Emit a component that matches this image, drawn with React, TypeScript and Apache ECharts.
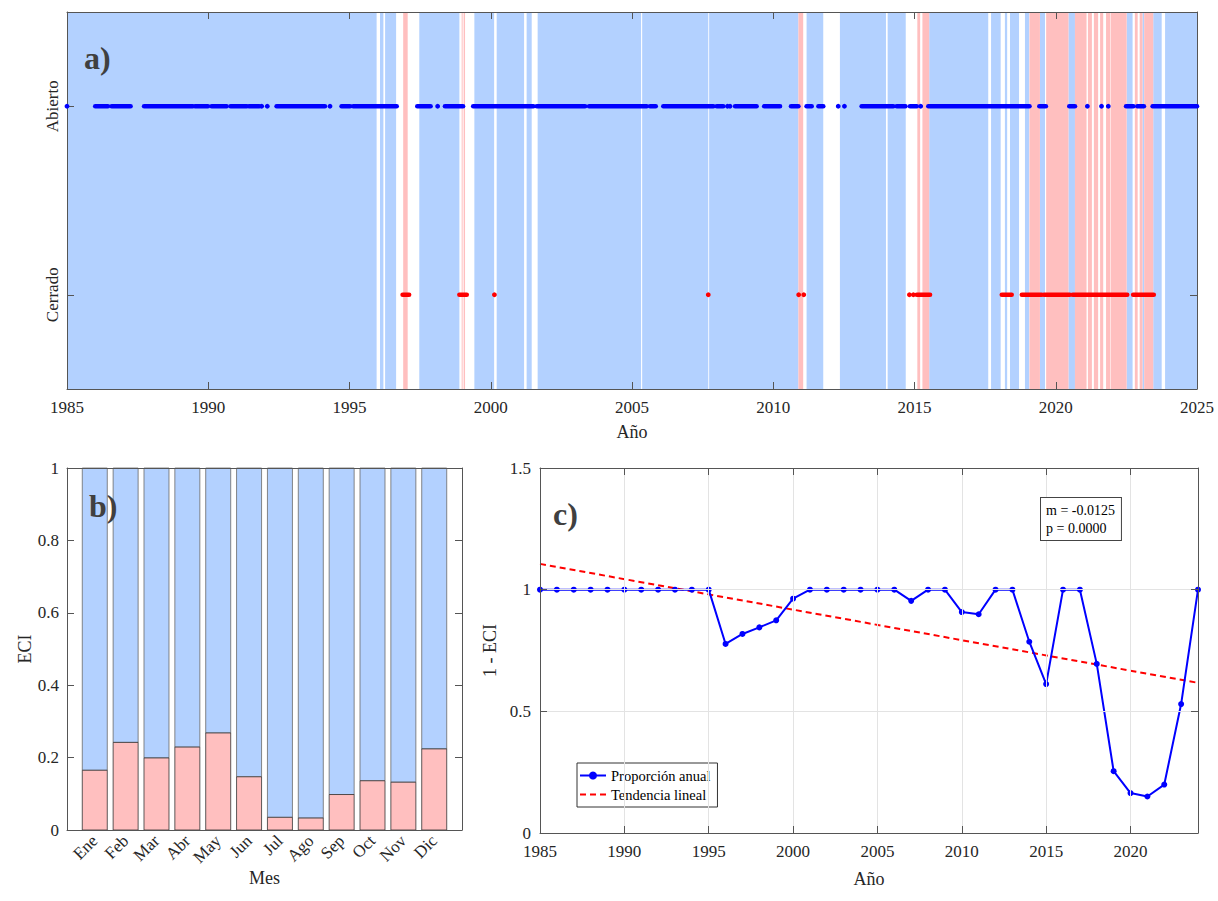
import React, { useEffect, useRef } from "react";
import * as echarts from "echarts";

const FONT = '"Liberation Serif","Times New Roman",serif';
const TXT = "#262626";
const AX = "#555555";
const BLUE_BG = "#b3d1ff";
const RED_BG = "#ffbfbf";

// ---------- Panel a: estado de la boca (Abierto = 1, Cerrado = 0) ----------
const stateLabels = ["Cerrado", "Abierto"];
const openSpans = [
  [1985.0, 1995.96], [1996.08, 1996.2], [1996.26, 1996.65], [1997.47, 1998.89],
  [1999.42, 2000.12], [2000.21, 2001.18], [2001.27, 2001.45], [2001.66, 2005.32],
  [2005.36, 2007.7], [2007.73, 2010.89], [2011.18, 2011.77], [2012.36, 2013.99],
  [2014.05, 2014.69], [2015.52, 2017.61], [2017.71, 2018.05], [2018.2, 2018.28],
  [2018.38, 2018.7], [2018.91, 2019.06], [2019.44, 2019.62], [2020.45, 2020.68],
  [2022.51, 2022.72], [2023.07, 2023.13], [2023.45, 2023.75], [2023.87, 2025.0],
];
const closedSpans = [
  [1996.9, 1997.06], [1998.97, 1999.0], [1999.04, 1999.09], [2010.89, 2011.06],
  [2015.1, 2015.2], [2015.28, 2015.52], [2019.07, 2019.44], [2019.66, 2020.45],
  [2020.68, 2021.09], [2021.14, 2021.28], [2021.35, 2021.5], [2021.57, 2021.68],
  [2021.78, 2021.92], [2021.94, 2022.51], [2022.8, 2022.9], [2022.97, 2023.07],
  [2023.13, 2023.45],
];
const openObs = [
  [1985.0, 1985.0], [1986.0, 1986.45], [1986.58, 1987.25], [1987.73, 1989.45],
  [1989.53, 1989.99], [1990.12, 1990.65], [1990.79, 1991.36], [1991.44, 1991.81],
  [1991.89, 1991.89], [1992.09, 1992.09], [1992.42, 1994.13], [1994.31, 1994.31],
  [1994.72, 1995.02], [1995.13, 1996.67], [1997.4, 1997.87], [1998.12, 1998.12],
  [1998.38, 1999.02], [1999.38, 2001.51], [2001.63, 2003.34], [2003.48, 2005.52],
  [2005.64, 2005.84], [2006.11, 2007.88], [2008.0, 2008.23], [2008.38, 2008.38],
  [2008.47, 2008.47], [2008.65, 2009.41], [2009.68, 2010.24], [2010.63, 2010.89],
  [2011.18, 2011.36], [2011.6, 2011.77], [2012.3, 2012.3], [2012.52, 2012.52],
  [2013.13, 2014.25], [2014.37, 2014.68], [2014.84, 2015.08], [2015.22, 2015.22],
  [2015.49, 2019.07], [2019.42, 2019.65], [2020.48, 2020.68], [2021.12, 2021.12],
  [2021.62, 2021.62], [2021.86, 2021.86], [2022.49, 2022.75], [2022.89, 2023.12],
  [2023.43, 2025.0],
];
const closedObs = [
  [1996.88, 1997.11], [1998.89, 1999.15], [2000.13, 2000.13], [2007.7, 2007.7],
  [2010.9, 2010.9], [2011.08, 2011.08], [2014.82, 2014.82], [2014.96, 2014.96],
  [2015.08, 2015.55], [2018.09, 2018.44], [2018.8, 2019.5], [2019.58, 2020.5],
  [2020.6, 2022.53], [2022.74, 2023.47],
];

// ---------- Panel b: ECI mensual ----------
const months = ["Ene", "Feb", "Mar", "Abr", "May", "Jun", "Jul", "Ago", "Sep", "Oct", "Nov", "Dic"];
const monthIdx = [1, 2, 3, 4, 5, 6, 7, 8, 9, 10, 11, 12];
const eciMonthly = [0.165, 0.242, 0.199, 0.229, 0.268, 0.147, 0.035, 0.033, 0.098, 0.136, 0.132, 0.224];

// ---------- Panel c: 1 - ECI anual ----------
const years = [
  1985, 1986, 1987, 1988, 1989, 1990, 1991, 1992, 1993, 1994, 1995, 1996, 1997, 1998,
  1999, 2000, 2001, 2002, 2003, 2004, 2005, 2006, 2007, 2008, 2009, 2010, 2011, 2012,
  2013, 2014, 2015, 2016, 2017, 2018, 2019, 2020, 2021, 2022, 2023, 2024,
];
const annualProp = [
  1, 1, 1, 1, 1, 1, 1, 1, 1, 1, 1, 0.777, 0.818, 0.845, 0.874, 0.963, 1, 1, 1, 1, 1, 1,
  0.954, 1, 1, 0.908, 0.899, 1, 1, 0.786, 0.612, 1, 1, 0.695, 0.254, 0.164, 0.15, 0.199,
  0.53, 1,
];
const trendYears = [1985, 2024];
const trendValues = [1.106, 0.617];
const trendStats = ["m = -0.0125", "p = 0.0000"];

const tickStyle = { show: true, inside: true, length: 7, lineStyle: { color: AX, width: 1 } };
const lineStyleAx = { show: true, onZero: false, lineStyle: { color: AX, width: 1 } };
const lblStyle = { color: TXT, fontFamily: FONT, fontSize: 17 };
const nameStyle = { color: TXT, fontFamily: FONT, fontSize: 18 };
const plain = (v: number) => String(v);

function spanSeries(spans: number[][], color: string) {
  return {
    type: "custom",
    xAxisIndex: 0,
    yAxisIndex: 0,
    silent: true,
    z: 1,
    clip: true,
    data: spans.map((s) => [s[0], s[1], 0.5]),
    encode: { x: [0, 1], y: 2 },
    renderItem: (_p: any, api: any) => {
      const a = api.coord([api.value(0), 1.5]);
      const b = api.coord([api.value(1), -0.5]);
      return {
        type: "rect",
        shape: { x: a[0], y: a[1], width: Math.max(b[0] - a[0], 1), height: b[1] - a[1] },
        style: { fill: color },
      };
    },
  };
}

function obsSeries(obs: number[][], level: number, color: string) {
  return {
    type: "custom",
    xAxisIndex: 0,
    yAxisIndex: 0,
    silent: true,
    z: 8,
    clip: false,
    data: obs.map((o) => [o[0], o[1], level]),
    encode: { x: [0, 1], y: 2 },
    renderItem: (_p: any, api: any) => {
      const a = api.coord([api.value(0), api.value(2)]);
      const b = api.coord([api.value(1), api.value(2)]);
      if (b[0] - a[0] < 0.5) {
        return { type: "circle", shape: { cx: a[0], cy: a[1], r: 2.4 }, style: { fill: color } };
      }
      return {
        type: "line",
        shape: { x1: a[0], y1: a[1], x2: b[0], y2: b[1] },
        style: { stroke: color, lineWidth: 4.6, lineCap: "round" },
      };
    },
  };
}

export default function App() {
  const ref = useRef<HTMLDivElement>(null);
  useEffect(() => {
    if (!ref.current) return;
    const chart = echarts.init(ref.current, undefined, { renderer: "svg" });
    const option: any = {
      animation: false,
      backgroundColor: "#ffffff",
      grid: [
        { left: 67, top: 12, width: 1130, height: 377 },
        { left: 67, top: 468, width: 395, height: 362 },
        { left: 540, top: 468, width: 658, height: 365 },
      ],
      xAxis: [
        {
          gridIndex: 0, type: "value", min: 1985, max: 2025, interval: 5, z: 5,
          axisLine: lineStyleAx, axisTick: tickStyle, splitLine: { show: false },
          axisLabel: { ...lblStyle, margin: 10, formatter: plain },
          name: "Año", nameLocation: "middle", nameGap: 34, nameTextStyle: nameStyle,
        },
        {
          gridIndex: 0, type: "value", min: 1985, max: 2025, interval: 5, position: "top", z: 5,
          axisLine: lineStyleAx, axisTick: tickStyle, splitLine: { show: false }, axisLabel: { show: false },
        },
        {
          gridIndex: 1, type: "value", min: 0.1, max: 12.9, z: 5,
          axisLine: lineStyleAx, axisTick: { show: false }, splitLine: { show: false },
          axisLabel: {
            ...lblStyle, fontSize: 17, rotate: 45, margin: 8,
            customValues: monthIdx,
            formatter: (v: number) => months[Math.round(v) - 1] ?? "",
          },
          name: "Mes", nameLocation: "middle", nameGap: 29, nameTextStyle: nameStyle,
        },
        {
          gridIndex: 1, type: "value", min: 0.1, max: 12.9, position: "top", z: 5,
          axisLine: lineStyleAx, axisTick: { show: false }, splitLine: { show: false }, axisLabel: { show: false },
        },
        {
          gridIndex: 2, type: "value", min: 1985, max: 2024, interval: 5, z: 5,
          axisLine: lineStyleAx, axisTick: tickStyle,
          splitLine: { show: true, lineStyle: { color: "#e3e3e3", width: 1 } },
          axisLabel: { ...lblStyle, margin: 10, formatter: (v: number) => (v % 5 === 0 ? String(v) : "") },
          name: "Año", nameLocation: "middle", nameGap: 37, nameTextStyle: nameStyle,
        },
        {
          gridIndex: 2, type: "value", min: 1985, max: 2024, interval: 5, position: "top", z: 5,
          axisLine: lineStyleAx, axisTick: tickStyle, splitLine: { show: false }, axisLabel: { show: false },
        },
      ],
      yAxis: [
        {
          gridIndex: 0, type: "value", min: -0.5, max: 1.5, z: 5,
          axisLine: lineStyleAx, axisTick: { ...tickStyle, customValues: [0, 1] }, splitLine: { show: false },
          axisLabel: {
            ...lblStyle, rotate: 90, margin: 6, customValues: [0, 1],
            formatter: (v: number) => stateLabels[Math.round(v)] ?? "",
          },
        },
        {
          gridIndex: 0, type: "value", min: -0.5, max: 1.5, position: "right", z: 5,
          axisLine: lineStyleAx, axisTick: { ...tickStyle, customValues: [0, 1] }, splitLine: { show: false },
          axisLabel: { show: false },
        },
        {
          gridIndex: 1, type: "value", min: 0, max: 1, interval: 0.2, z: 5,
          axisLine: lineStyleAx, axisTick: tickStyle, splitLine: { show: false },
          axisLabel: { ...lblStyle, margin: 8 },
          name: "ECI", nameLocation: "middle", nameGap: 24, nameTextStyle: nameStyle,
        },
        {
          gridIndex: 1, type: "value", min: 0, max: 1, interval: 0.2, position: "right", z: 5,
          axisLine: lineStyleAx, axisTick: tickStyle, splitLine: { show: false }, axisLabel: { show: false },
        },
        {
          gridIndex: 2, type: "value", min: 0, max: 1.5, interval: 0.5, z: 5,
          axisLine: lineStyleAx, axisTick: tickStyle,
          splitLine: { show: true, lineStyle: { color: "#e3e3e3", width: 1 } },
          axisLabel: { ...lblStyle, margin: 9 },
          name: "1 - ECI", nameLocation: "middle", nameGap: 26, nameTextStyle: nameStyle,
        },
        {
          gridIndex: 2, type: "value", min: 0, max: 1.5, interval: 0.5, position: "right", z: 5,
          axisLine: lineStyleAx, axisTick: tickStyle, splitLine: { show: false }, axisLabel: { show: false },
        },
      ],
      legend: {
        data: [
          { name: "Proporción anual" },
          { name: "Tendencia lineal", itemStyle: { opacity: 0 } },
        ],
        orient: "vertical",
        left: 577,
        top: 763,
        itemWidth: 26,
        itemHeight: 10,
        itemGap: 4,
        padding: [5, 7, 5, 2],
        backgroundColor: "#ffffff",
        borderColor: "#333333",
        borderWidth: 1,
        textStyle: { color: "#000", fontFamily: FONT, fontSize: 14.5 },
      },
      graphic: [
        {
          type: "text", left: 84, top: 42, z: 20,
          style: { text: "a)", fill: "#404040", fontFamily: FONT, fontSize: 32, fontWeight: "bold" },
        },
        {
          type: "text", left: 89, top: 490, z: 20,
          style: { text: "b)", fill: "#404040", fontFamily: FONT, fontSize: 32, fontWeight: "bold" },
        },
        {
          type: "text", left: 553, top: 498, z: 20,
          style: { text: "c)", fill: "#404040", fontFamily: FONT, fontSize: 32, fontWeight: "bold" },
        },
        {
          type: "text", left: 1040, top: 497, z: 20,
          style: {
            text: trendStats.join("\n"), fill: "#000", fontFamily: FONT, fontSize: 14, lineHeight: 18,
            backgroundColor: "#fff", borderColor: "#444", borderWidth: 1, padding: [3, 6, 3, 5],
          },
        },
      ],
      series: [
        spanSeries(openSpans, BLUE_BG),
        spanSeries(closedSpans, RED_BG),
        obsSeries(openObs, 1, "#0000ff"),
        obsSeries(closedObs, 0, "#ff0000"),
        {
          type: "custom", xAxisIndex: 2, yAxisIndex: 2, silent: true, z: 2,
          data: monthIdx.map((m, i) => [m, eciMonthly[i]]),
          encode: { x: 0, y: 1 },
          renderItem: (_p: any, api: any) => {
            const m = api.value(0);
            const v = api.value(1);
            const p0 = api.coord([m, 0]);
            const pv = api.coord([m, v]);
            const p1 = api.coord([m, 1]);
            const w = 25;
            return {
              type: "group",
              children: [
                {
                  type: "rect",
                  shape: { x: p1[0] - w / 2, y: p1[1], width: w, height: pv[1] - p1[1] },
                  style: { fill: BLUE_BG, stroke: "#6a6a6a", lineWidth: 0.8 },
                },
                {
                  type: "rect",
                  shape: { x: pv[0] - w / 2, y: pv[1], width: w, height: p0[1] - pv[1] },
                  style: { fill: RED_BG, stroke: "#333333", lineWidth: 0.8 },
                },
              ],
            };
          },
        },
        {
          name: "Proporción anual", type: "line", xAxisIndex: 4, yAxisIndex: 4,
          data: years.map((y, i) => [y, annualProp[i]]),
          symbol: "circle", symbolSize: 6, clip: false, z: 4,
          lineStyle: { color: "#0000ff", width: 2 }, itemStyle: { color: "#0000ff" },
        },
        {
          name: "Tendencia lineal", type: "line", xAxisIndex: 4, yAxisIndex: 4,
          data: trendYears.map((y, i) => [y, trendValues[i]]),
          symbol: "none", z: 3,
          lineStyle: { color: "#ff0000", width: 2, type: [6, 4] }, itemStyle: { color: "#ff0000" },
        },
      ],
    };
    chart.setOption(option);
    return () => chart.dispose();
  }, []);
  return (
    <div
      ref={ref}
      style={{ position: "absolute", left: 0, top: 0, width: 1218, height: 901, background: "#fff" }}
    />
  );
}
